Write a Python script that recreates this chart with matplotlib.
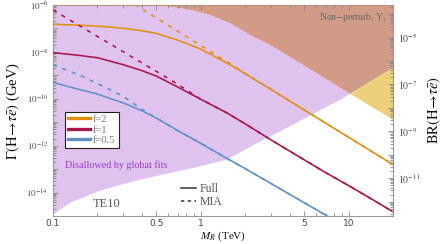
import matplotlib
matplotlib.use("Agg")
import numpy as np
import matplotlib.pyplot as plt
from matplotlib.lines import Line2D
from matplotlib.ticker import FixedLocator, NullFormatter, FixedFormatter

# ---------------- data ----------------
mass = [0.1, 0.15, 0.2, 0.3, 0.4, 0.5, 0.7, 1, 1.5, 2, 3, 5, 7, 10, 15, 20]  # TeV

# log10 Gamma (GeV), full calculation
full_f2 = [-6.82, -6.86, -6.90, -6.99, -7.10, -7.21, -7.50, -7.88, -8.47, -8.93,
           -9.61, -10.47, -11.04, -11.64, -12.32, -12.81]
full_f1 = [-8.03, -8.15, -8.25, -8.55, -8.80, -9.03, -9.50, -10.02, -10.60, -11.07,
           -11.76, -12.60, -13.15, -13.70, -14.35, -14.82]
mass_f05 = [0.1, 0.15, 0.2, 0.3, 0.4, 0.5, 0.7, 1, 1.5, 2, 3, 5, 7, 10]
full_f05 = [-9.30, -9.60, -9.80, -10.18, -10.51, -10.82, -11.36, -11.90, -12.54,
            -12.98, -13.62, -14.43, -14.96, -15.55]

# log10 Gamma (GeV), mass-insertion approximation
mia_mass_f2 = [0.1, 0.2, 0.5, 1, 1.7, 2, 3, 5, 7, 10, 15, 20]
mia_f2 = [-3.80, -4.98, -6.55, -7.73, -8.63, -8.93, -9.61, -10.47, -11.04, -11.64,
          -12.32, -12.81]
mia_mass_f1 = [0.1, 0.2, 0.3, 0.4, 0.5, 0.7, 1, 1.5, 2, 3, 5, 7, 10, 15, 20]
mia_f1 = [-6.21, -7.34, -8.00, -8.47, -8.83, -9.38, -10.02, -10.60, -11.07, -11.76,
          -12.60, -13.15, -13.70, -14.35, -14.82]
mia_mass_f05 = [0.1, 0.15, 0.2, 0.3, 0.4, 0.5, 0.7, 1, 1.5, 2, 3, 5, 7, 10]
mia_f05 = [-8.55, -8.98, -9.35, -9.90, -10.45, -10.82, -11.36, -11.90, -12.54,
           -12.98, -13.62, -14.43, -14.96, -15.55]

# region boundaries (log10 Gamma)
nonpert_mass = [0.1, 0.2, 0.454, 0.62, 0.86, 1.16, 1.58, 2.16, 2.94, 5.5, 10.26, 20.0]
nonpert_log = [-5.99, -5.99, -6.03, -6.07, -6.21, -6.43, -6.78, -7.28, -7.70, -8.74,
               -9.79, -10.89]
fits_mass = [0.1, 0.13, 0.203, 0.35, 0.62, 0.89, 1.5, 2.52, 3.44, 8.77, 10.26, 20.0]
fits_log = [-14.94, -14.44, -13.94, -13.52, -13.16, -12.95, -12.60, -11.82, -11.39,
            -10.04, -9.79, -8.68]

gamma_H = 4.1e-3  # GeV, converts width to branching ratio

series_labels = ["f=2", "f=1", "f=0.5"]
colors = ["#e0900f", "#a8164b", "#5f91c8"]

# ---------------- figure ----------------
plt.rcParams["mathtext.fontset"] = "stix"
fig = plt.figure(figsize=(4.46, 2.44), dpi=100)
ax = fig.add_axes([53 / 446, 1 - 216 / 244, 340 / 446, 211 / 244])
ax.set_xscale("log")
ax.set_yscale("log")
xmin, xmax = 0.1, 20.0
ymin, ymax = 1e-15, 1e-6
ax.set_xlim(xmin, xmax)
ax.set_ylim(ymin, ymax)

purple = "#dfc2ee"
brown = "#d19b87"
yellow = "#ecd07c"

npm = np.array(nonpert_mass); npl = 10.0 ** np.array(nonpert_log)
fm = np.array(fits_mass); fl = 10.0 ** np.array(fits_log)
ic = 10  # index of the shared crossing point in both boundary lists

# purple: above fits boundary, below non-perturbative boundary
px = np.concatenate([fm[:ic + 1], npm[:ic + 1][::-1]])
py = np.concatenate([fl[:ic + 1], npl[:ic + 1][::-1]])
ax.fill(px, py, color=purple, lw=0, zorder=1)
# brown: above both
bx = np.concatenate([npm[:ic + 1], fm[ic:], [xmax, xmin]])
by = np.concatenate([npl[:ic + 1], fl[ic:], [ymax * 10, ymax * 10]])
ax.fill(bx, by, color=brown, lw=0, zorder=1)
# yellow: above non-perturbative boundary, below fits boundary
yx = np.concatenate([npm[ic:], fm[ic:][::-1]])
yy = np.concatenate([npl[ic:], fl[ic:][::-1]])
ax.fill(yx, yy, color=yellow, lw=0, zorder=1)

full_sets = [(mass, full_f2), (mass, full_f1), (mass_f05, full_f05)]
mia_sets = [(mia_mass_f2, mia_f2), (mia_mass_f1, mia_f1), (mia_mass_f05, mia_f05)]
for (m, g), (mm, gm), c in zip(full_sets, mia_sets, colors):
    ax.plot(m, 10.0 ** np.array(g), color=c, lw=1.15, zorder=3)
    ax.plot(mm, 10.0 ** np.array(gm), color=c, lw=1.15, dashes=(2.6, 3.6), zorder=3)

# ---------------- ticks ----------------
tick_col = "#444444"
for s in ax.spines.values():
    s.set_color("#999999")
    s.set_linewidth(0.8)
ax.spines["top"].set_color("#b8907f")
ax.xaxis.set_major_locator(FixedLocator([0.1, 0.5, 1, 5, 10]))
ax.xaxis.set_major_formatter(FixedFormatter(["0.1", "0.5", "1", "5", "10"]))
minor_x = [0.2, 0.3, 0.4, 0.6, 0.7, 0.8, 0.9, 2, 3, 4, 6, 7, 8, 9, 20]
ax.xaxis.set_minor_locator(FixedLocator(minor_x))
ax.xaxis.set_minor_formatter(NullFormatter())

ymaj = [10.0 ** e for e in range(-15, -5)]
ax.yaxis.set_major_locator(FixedLocator(ymaj))
ax.yaxis.set_major_formatter(FixedFormatter(
    ["" if e % 2 else r"$10^{%d}$" % e for e in range(-15, -5)]))
ymin_t = [k * 10.0 ** e for e in range(-15, -6) for k in range(2, 10)]
ax.yaxis.set_minor_locator(FixedLocator(ymin_t))
ax.yaxis.set_minor_formatter(NullFormatter())
ax.tick_params(which="both", direction="in", top=True, right=False,
               colors="#888888", labelcolor=tick_col, labelsize=6.5, width=0.6)
ax.tick_params(which="major", length=3.5)
ax.tick_params(which="minor", length=2)
ax.tick_params(axis="x", pad=2.5)

ax2 = ax.twinx()
ax2.set_yscale("log")
ax2.set_ylim(ymin / gamma_H, ymax / gamma_H)
rmaj = [10.0 ** e for e in range(-13, -3)]
ax2.yaxis.set_major_locator(FixedLocator(rmaj))
ax2.yaxis.set_major_formatter(FixedFormatter(
    [r"$10^{%d}$" % e if e % 2 else "" for e in range(-13, -3)]))
rmin_t = [k * 10.0 ** e for e in range(-13, -3) for k in range(2, 10)]
ax2.yaxis.set_minor_locator(FixedLocator(rmin_t))
ax2.yaxis.set_minor_formatter(NullFormatter())
ax2.tick_params(which="both", direction="in", colors="#888888",
                labelcolor=tick_col, labelsize=7, width=0.6)
ax2.tick_params(which="major", length=3.5)
ax2.tick_params(which="minor", length=2)
for s in ax2.spines.values():
    s.set_visible(False)

# ---------------- labels ----------------
serif = "Liberation Serif"
ax.set_ylabel(r"$\Gamma(\mathrm{H}\!\to\!\tau\bar{e})$ (GeV)", fontsize=10.5,
              family=serif, labelpad=3, color="#111111")
ax2.set_ylabel(r"$\mathrm{BR}(\mathrm{H}\!\to\!\tau\bar{e})$", fontsize=10.5,
               family=serif, labelpad=4, color="#111111")
ax.set_xlabel(r"$M_R$ (TeV)", fontsize=8, family=serif, labelpad=0.5,
              color="#111111")

ax.text(0.985, 0.943, r"Non$-$perturb. Y$_\tau$", transform=ax.transAxes,
        ha="right", va="center", fontsize=7, family=serif, color="#666666",
        zorder=5)
ax.text(0.035, 0.242, "Disallowed by globat fits", transform=ax.transAxes,
        ha="left", va="center", fontsize=7.3, family=serif, color="#9b3fd0",
        zorder=5)
ax.text(0.159, 0.057, "TE10", transform=ax.transAxes, ha="center", va="center",
        fontsize=9, family=serif, color="#555555", zorder=5)

h1 = [Line2D([], [], color=c, lw=2.4) for c in colors]
leg1 = ax.legend(h1, series_labels, loc="upper left",
                 bbox_to_anchor=(0.035, 0.495), frameon=True, fancybox=False,
                 edgecolor="#222222", framealpha=1, facecolor="white",
                 prop={"family": serif, "size": 7.5}, handlelength=2.1,
                 handletextpad=0.3, borderpad=0.3, labelspacing=0.12,
                 borderaxespad=0)
leg1.get_frame().set_linewidth(0.8)
for t in leg1.get_texts():
    t.set_color("#777777")
ax.add_artist(leg1)

h2 = [Line2D([], [], color="#333333", lw=1.1),
      Line2D([], [], color="#333333", lw=1.1, dashes=(2.2, 2.2))]
leg2 = ax.legend(h2, ["Full", "MIA"], loc="upper left",
                 bbox_to_anchor=(0.375, 0.155), frameon=False,
                 prop={"family": serif, "size": 8.5}, handlelength=1.3,
                 handletextpad=0.3, labelspacing=0.05, borderaxespad=0,
                 borderpad=0)
for t in leg2.get_texts():
    t.set_color("#555555")

fig.savefig("out.png", dpi=100)
